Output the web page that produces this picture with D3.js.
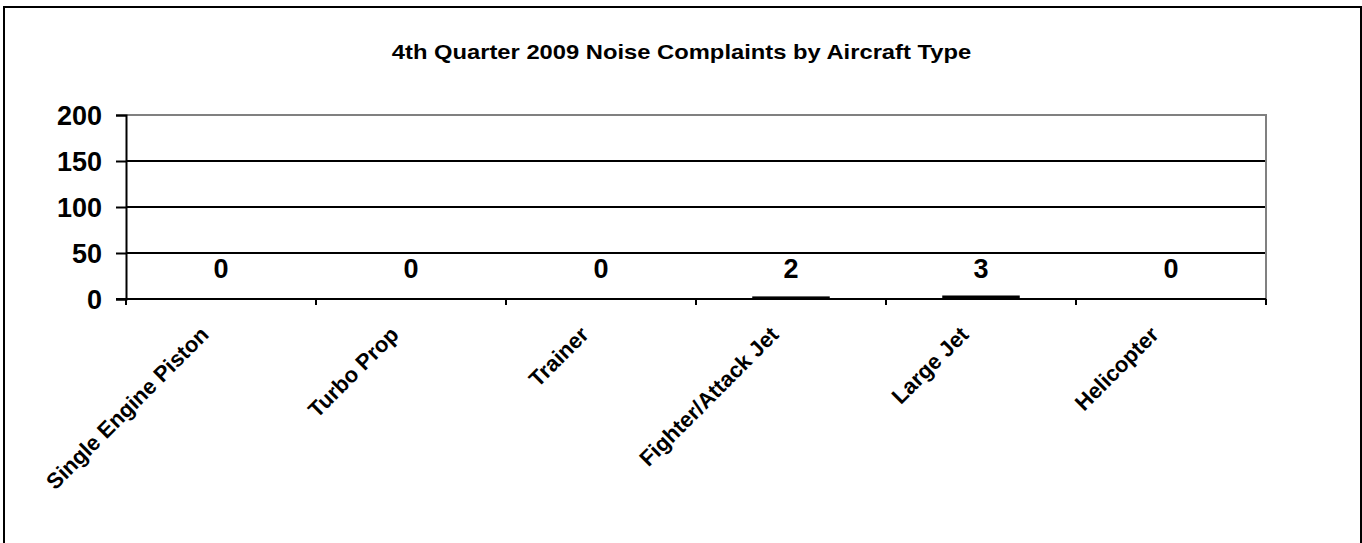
<!DOCTYPE html>
<html lang="en">
  <head>
    <meta charset="UTF-8" />
    <title>4th Quarter 2009 Noise Complaints by Aircraft Type</title>
    <style>
      * {
        margin: 0;
        padding: 0;
      }
      body {
        background: #fff;
      }
      text {
        font-family: 'Liberation Sans', Arial, sans-serif;
        font-weight: bold;
        fill: #000;
      }
    </style>
  </head>
  <body>
    <script src="https://cdn.jsdelivr.net/npm/d3@7/dist/d3.min.js"></script>
    <script>
      const title = '4th Quarter 2009 Noise Complaints by Aircraft Type'
      const categories = [
        'Single Engine Piston',
        'Turbo Prop',
        'Trainer',
        'Fighter/Attack Jet',
        'Large Jet',
        'Helicopter'
      ]
      const complaints = [0, 0, 0, 2, 3, 0]
      const yTicks = [0, 50, 100, 150, 200]

      const width = 1362
      const height = 543
      const plot = { left: 126, right: 1266, top: 115, bottom: 299 }

      const svg = d3
        .select('body')
        .append('svg')
        .attr('width', width)
        .attr('height', height)

      // outer chart border
      svg
        .append('rect')
        .attr('x', 4)
        .attr('y', 7)
        .attr('width', 1357)
        .attr('height', 560)
        .attr('fill', 'none')
        .attr('stroke', '#000')
        .attr('stroke-width', 2)

      const titleX = (393 + 970) / 2
      svg
        .append('text')
        .attr('x', titleX)
        .attr('y', 59)
        .attr('text-anchor', 'middle')
        .style('font-size', '19.8px')
        .attr('transform', `translate(${titleX},0) scale(1.2,1) translate(${-titleX},0)`)
        .text(title)

      const x = d3
        .scaleBand()
        .domain(categories)
        .range([plot.left, plot.right])
        .paddingInner(0)
        .paddingOuter(0)

      const y = d3.scaleLinear().domain([0, 200]).range([plot.bottom, plot.top])

      // gridlines
      svg
        .append('g')
        .selectAll('line')
        .data(yTicks.filter(d => d > 0 && d < 200))
        .join('line')
        .attr('x1', plot.left)
        .attr('x2', plot.right)
        .attr('y1', d => y(d))
        .attr('y2', d => y(d))
        .attr('stroke', '#000')
        .attr('stroke-width', 2)

      // plot area border (top, right)
      svg
        .append('path')
        .attr('d', `M${plot.left},${y(200)}H${plot.right}V${plot.bottom}`)
        .attr('fill', 'none')
        .attr('stroke', '#808080')
        .attr('stroke-width', 2)

      // bars
      const barW = x.bandwidth() * 0.4
      svg
        .append('g')
        .selectAll('rect')
        .data(complaints)
        .join('rect')
        .attr('x', (d, i) => x(categories[i]) + (x.bandwidth() - barW) / 2)
        .attr('y', d => y(d))
        .attr('width', barW)
        .attr('height', d => y(0) - y(d))
        .attr('fill', '#000')
        .attr('stroke', d => (d > 0 ? '#000' : 'none'))
        .attr('stroke-width', 1.5)

      // value labels
      svg
        .append('g')
        .selectAll('text')
        .data(complaints)
        .join('text')
        .attr('x', (d, i) => x(categories[i]) + x.bandwidth() / 2)
        .attr('y', 278)
        .attr('text-anchor', 'middle')
        .style('font-size', '27px')
        .text(d => d)

      // y axis
      const yAxis = svg
        .append('g')
        .attr('transform', `translate(${plot.left},0)`)
        .call(d3.axisLeft(y).tickValues(yTicks).tickSize(10).tickPadding(14))
      yAxis.select('.domain').attr('stroke', '#000').attr('stroke-width', 2)
      yAxis.selectAll('.tick line').attr('stroke', '#000').attr('stroke-width', 2)
      yAxis
        .selectAll('.tick text')
        .style('font-size', '27px')
        .style('font-family', "'Liberation Sans', Arial, sans-serif")
        .attr('dy', '0.36em')

      // x axis
      const bounds = categories.map(c => x(c)).concat([plot.right])
      const xAxis = svg.append('g')
      xAxis
        .append('line')
        .attr('x1', plot.left - 10)
        .attr('x2', plot.right)
        .attr('y1', plot.bottom)
        .attr('y2', plot.bottom)
        .attr('stroke', '#000')
        .attr('stroke-width', 2)
      xAxis
        .selectAll('line.tick')
        .data(bounds)
        .join('line')
        .attr('class', 'tick')
        .attr('x1', d => d)
        .attr('x2', d => d)
        .attr('y1', plot.bottom)
        .attr('y2', plot.bottom + 6)
        .attr('stroke', '#000')
        .attr('stroke-width', 2)
      xAxis
        .selectAll('text')
        .data(categories)
        .join('text')
        .attr('text-anchor', 'end')
        .style('font-size', '22px')
        .attr(
          'transform',
          d =>
            `translate(${x(d) + x.bandwidth() / 2 - 11},${plot.bottom + 37}) rotate(-45)`
        )
        .text(d => d)
    </script>
  </body>
</html>
